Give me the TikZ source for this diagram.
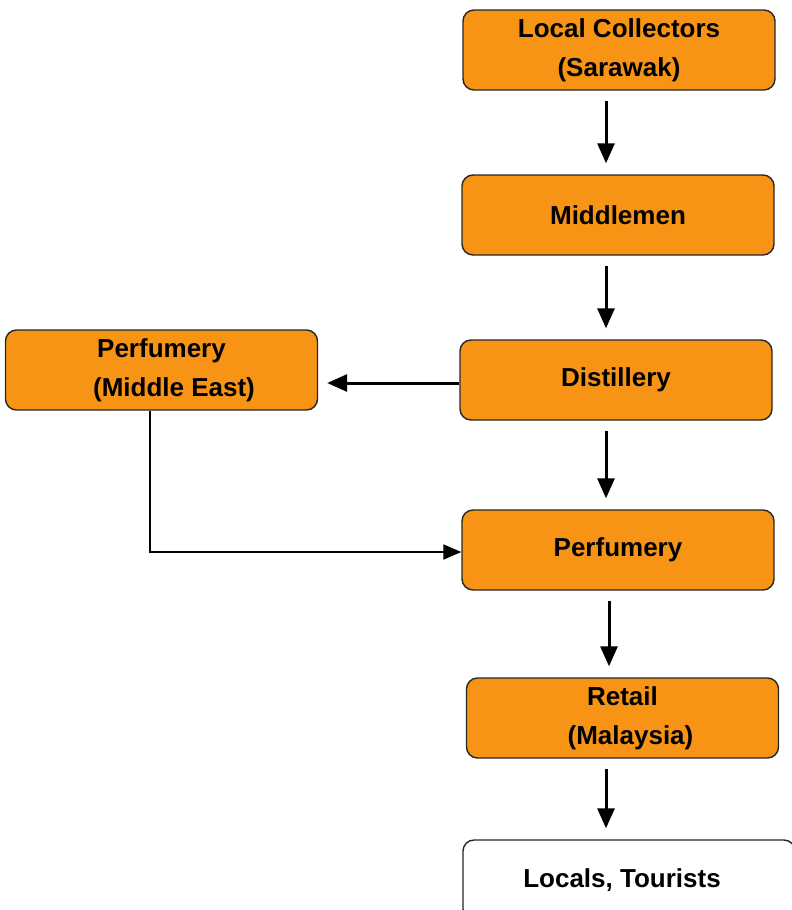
\documentclass[tikz,border=0pt]{standalone}
\usepackage{fontspec}
\setmainfont{Liberation Sans}
\usetikzlibrary{arrows.meta}
\definecolor{boxorange}{RGB}{247,148,22}

\begin{document}
\begin{tikzpicture}[x=0.5pt,y=-0.5pt,
  box/.style={draw=black!85, line width=0.7pt, fill=boxorange, rounded corners=5.5pt,
    minimum width=156pt, minimum height=40pt, inner sep=0pt, align=center,
    font=\fontsize{13}{19.5}\selectfont\bfseries},
  flow/.style={line width=1.5pt, -{Triangle[length=10pt,width=8.5pt]},
    shorten <=5pt, shorten >=5.5pt}]

\useasboundingbox (0,0) rectangle (792,910);

% main chain
\node[box] (lc) at (619,50) {Local Collectors\\(Sarawak)};
\node[box] (mm) at (618,215) {Middlemen};
\node[box] (dist) at (616,380) {Distillery};
\node[box] (perf) at (618,550) {Perfumery};
\node[box] (ret) at (622.5,718) {Retail\\\hspace*{8pt}(Malaysia)};
\node[box, fill=white, minimum width=166pt] (lt) at (629,880) {Locals, Tourists\hspace*{7pt}};

% side branch
\node[box] (pme) at (161.5,370) {Perfumery\\\hspace*{12.5pt}(Middle East)};

\coordinate (col) at (606,0);

\draw[flow] (lc.south -| col) -- (mm.north -| col);
\draw[flow] (mm.south -| col) -- (dist.north -| col);
\draw[flow] (dist.south -| col) -- (perf.north -| col);
\draw[flow] ([xshift=1.5pt]perf.south -| col) -- ([xshift=1.5pt]ret.north -| col);
\draw[flow] (ret.south -| col) -- (lt.north -| col);

\draw[flow, shorten <=0pt, shorten >=4.5pt] ([yshift=-1.5pt]dist.west) -- ([yshift=-1.5pt]dist.west -| pme.east);
\draw[line width=1pt, -{Triangle[length=9pt,width=7.5pt]}] ([xshift=-5.75pt]pme.south) |- ([yshift=-1pt]perf.west);

\end{tikzpicture}
\end{document}
